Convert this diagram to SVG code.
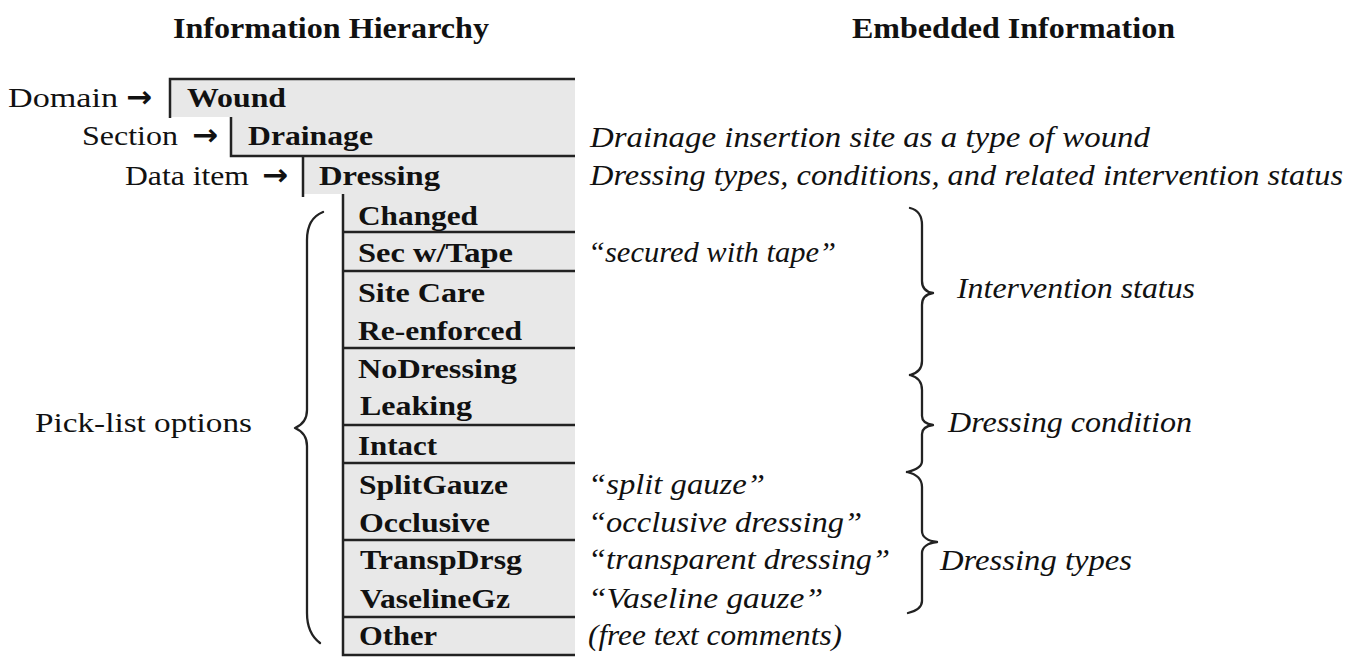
<svg xmlns="http://www.w3.org/2000/svg" width="1355" height="658" viewBox="0 0 1355 658">
<style>
  .hdr { font-family: "Liberation Serif", "Times New Roman", serif; font-weight: bold; font-size: 29px; fill: #111; }
  .lbl { font-family: "Liberation Serif", "Times New Roman", serif; font-size: 28px; fill: #111; }
  .arr { font-family: "DejaVu Sans", sans-serif; font-weight: bold; font-size: 30px; fill: #111; }
  .opt { font-family: "Liberation Serif", "Times New Roman", serif; font-weight: bold; font-size: 28px; fill: #111; }
  .ann { font-family: "Liberation Serif", "Times New Roman", serif; font-style: italic; font-size: 29px; fill: #111; }
  .ln { fill: none; stroke: #222; stroke-width: 2.5; }
  .sep { stroke: #222; stroke-width: 2.5; }
  .brace { fill: none; stroke: #222; stroke-width: 2.3; stroke-linejoin: round; stroke-linecap: round; }
</style>
<rect x="0" y="0" width="1355" height="658" fill="#ffffff"/>

<g id="headers">
  <text class="hdr" x="173" y="38" textLength="316" lengthAdjust="spacingAndGlyphs">Information Hierarchy</text>
  <text class="hdr" x="852" y="38" textLength="323" lengthAdjust="spacingAndGlyphs">Embedded Information</text>
</g>

<g id="hierarchy-box">
  <polygon points="170,79 575,79 575,655 343,655 343,194 303,194 303,156 231,156 231,117 170,117" fill="#e8e8e8"/>
  <path class="ln" d="M170 118 V79 H575"/>
  <path class="ln" d="M231 117 V156 H575"/>
  <path class="ln" d="M303 156 V197"/>
  <path class="ln" d="M343 194 V655 H575"/>
</g>

<g id="domain">
  <text class="lbl" x="8" y="107" textLength="110" lengthAdjust="spacingAndGlyphs">Domain</text>
  <text class="arr" x="126" y="107" textLength="26" lengthAdjust="spacingAndGlyphs">→</text>
  <text class="opt" x="187" y="107" textLength="99" lengthAdjust="spacingAndGlyphs">Wound</text>
</g>
<g id="section">
  <text class="lbl" x="82" y="145" textLength="96" lengthAdjust="spacingAndGlyphs">Section</text>
  <text class="arr" x="192" y="145" textLength="26" lengthAdjust="spacingAndGlyphs">→</text>
  <text class="opt" x="248" y="145" textLength="125" lengthAdjust="spacingAndGlyphs">Drainage</text>
</g>
<g id="data-item">
  <text class="lbl" x="125" y="185" textLength="124" lengthAdjust="spacingAndGlyphs">Data item</text>
  <text class="arr" x="262" y="185" textLength="26" lengthAdjust="spacingAndGlyphs">→</text>
  <text class="opt" x="319" y="185" textLength="121" lengthAdjust="spacingAndGlyphs">Dressing</text>
</g>

<g id="options">
  <line class="sep" x1="343" y1="232" x2="575" y2="232"/>
  <line class="sep" x1="343" y1="271" x2="575" y2="271"/>
  <line class="sep" x1="343" y1="348" x2="575" y2="348"/>
  <line class="sep" x1="343" y1="425" x2="575" y2="425"/>
  <line class="sep" x1="343" y1="463" x2="575" y2="463"/>
  <line class="sep" x1="343" y1="540" x2="575" y2="540"/>
  <line class="sep" x1="343" y1="617" x2="575" y2="617"/>
  <g id="opt-changed"><text class="opt" x="358" y="225" textLength="120" lengthAdjust="spacingAndGlyphs">Changed</text></g>
  <g id="opt-sectape"><text class="opt" x="358" y="262" textLength="155" lengthAdjust="spacingAndGlyphs">Sec w/Tape</text></g>
  <g id="opt-sitecare"><text class="opt" x="358" y="302" textLength="127" lengthAdjust="spacingAndGlyphs">Site Care</text></g>
  <g id="opt-reenforced"><text class="opt" x="358" y="340" textLength="164" lengthAdjust="spacingAndGlyphs">Re-enforced</text></g>
  <g id="opt-nodressing"><text class="opt" x="358" y="378" textLength="159" lengthAdjust="spacingAndGlyphs">NoDressing</text></g>
  <g id="opt-leaking"><text class="opt" x="360" y="415" textLength="112" lengthAdjust="spacingAndGlyphs">Leaking</text></g>
  <g id="opt-intact"><text class="opt" x="358" y="455" textLength="79" lengthAdjust="spacingAndGlyphs">Intact</text></g>
  <g id="opt-splitgauze"><text class="opt" x="359" y="494" textLength="149" lengthAdjust="spacingAndGlyphs">SplitGauze</text></g>
  <g id="opt-occlusive"><text class="opt" x="359" y="532" textLength="131" lengthAdjust="spacingAndGlyphs">Occlusive</text></g>
  <g id="opt-transpdrsg"><text class="opt" x="360" y="569" textLength="162" lengthAdjust="spacingAndGlyphs">TranspDrsg</text></g>
  <g id="opt-vaselinegz"><text class="opt" x="360" y="608" textLength="150" lengthAdjust="spacingAndGlyphs">VaselineGz</text></g>
  <g id="opt-other"><text class="opt" x="359" y="645" textLength="78" lengthAdjust="spacingAndGlyphs">Other</text></g>
</g>

<g id="pick-list-label">
  <text class="lbl" x="35" y="432" textLength="217" lengthAdjust="spacingAndGlyphs">Pick-list options</text>
</g>

<g id="annotations">
  <text class="ann" x="590" y="147" textLength="560" lengthAdjust="spacingAndGlyphs">Drainage insertion site as a type of wound</text>
  <text class="ann" x="590" y="185" textLength="753" lengthAdjust="spacingAndGlyphs">Dressing types, conditions, and related intervention status</text>
  <text class="ann" x="588" y="262" textLength="248" lengthAdjust="spacingAndGlyphs">“secured with tape”</text>
  <text class="ann" x="588" y="494" textLength="177" lengthAdjust="spacingAndGlyphs">“split gauze”</text>
  <text class="ann" x="588" y="532" textLength="274" lengthAdjust="spacingAndGlyphs">“occlusive dressing”</text>
  <text class="ann" x="588" y="569" textLength="302" lengthAdjust="spacingAndGlyphs">“transparent dressing”</text>
  <text class="ann" x="588" y="608" textLength="235" lengthAdjust="spacingAndGlyphs">“Vaseline gauze”</text>
  <text class="ann" x="588" y="645" textLength="254" lengthAdjust="spacingAndGlyphs">(free text comments)</text>
</g>

<g id="groups">
  <g id="grp-intervention"><text class="ann" x="957" y="298" textLength="238" lengthAdjust="spacingAndGlyphs">Intervention status</text></g>
  <g id="grp-condition"><text class="ann" x="948" y="432" textLength="244" lengthAdjust="spacingAndGlyphs">Dressing condition</text></g>
  <g id="grp-types"><text class="ann" x="940" y="570" textLength="192" lengthAdjust="spacingAndGlyphs">Dressing types</text></g>
</g>

<g id="connectors">
  <path class="brace" d="M323 212 C313 216 307 225 307 240 L307 410 C307 420 302 425 295 428 C302 431 307 436 307 446 L307 613 C307 627 312 637 320 643"/>
  <path class="brace" d="M910 208 C918 210 922 216 922 225 L922 281 C922 288 926 292 933 293 C926 294 922 298 922 305 L922 361 C922 369 918 373 910 375"/>
  <path class="brace" d="M910 375 C918 377 922 382 922 390 L922 416 C922 421 926 424 933 425 C926 426 922 429 922 434 L922 461 C922 467 916 470 907 472"/>
  <path class="brace" d="M907 472 C916 474 922 479 922 487 L922 531 C922 537 928 541 937 542 C928 543 922 547 922 553 L922 601 C922 607 916 611 908 613"/>
</g>
</svg>
